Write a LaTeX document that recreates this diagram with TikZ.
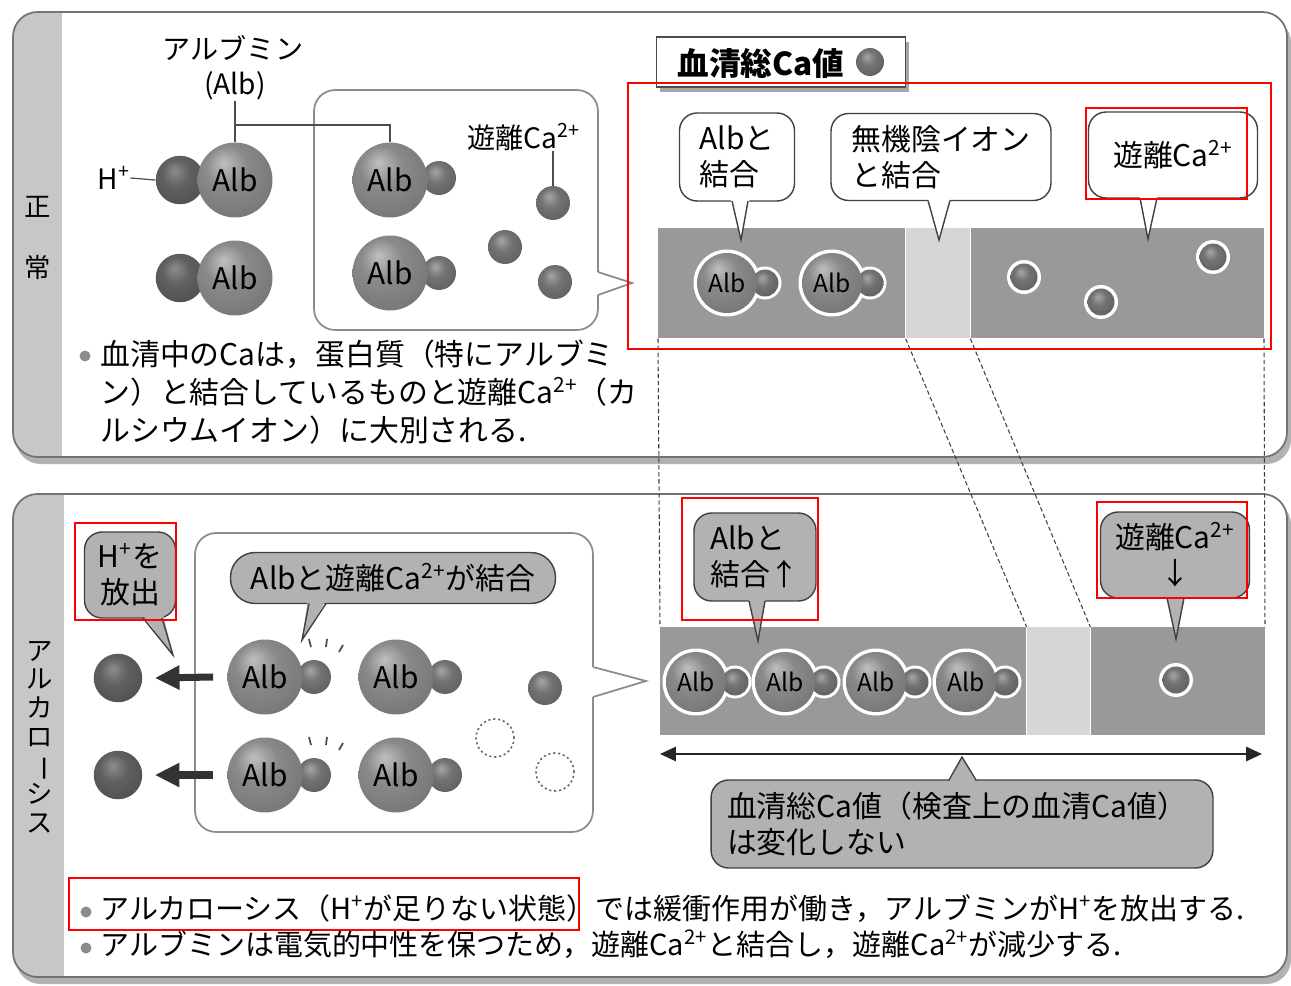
\documentclass[tikz,border=0pt]{standalone}
\usepackage{fontspec}
\setmainfont{Noto Sans CJK JP}
\usetikzlibrary{positioning,arrows.meta}

\definecolor{stripegray}{gray}{0.78}
\definecolor{bandgray}{gray}{0.6}
\definecolor{bandlight}{gray}{0.84}
\definecolor{bubblegray}{gray}{0.7}
\definecolor{framegray}{gray}{0.45}

% shaded spheres for albumin, H+ and Ca2+
\pgfdeclareradialshading{albshade}{\pgfpoint{-8bp}{12bp}}{color(0bp)=(black!25); color(14bp)=(black!46); color(40bp)=(black!57); color(50bp)=(black!66)}
\pgfdeclareradialshading{hshade}{\pgfpoint{-6bp}{10bp}}{color(0bp)=(black!45); color(14bp)=(black!62); color(40bp)=(black!72); color(50bp)=(black!80)}
\pgfdeclareradialshading{cashade}{\pgfpoint{-6bp}{10bp}}{color(0bp)=(black!35); color(14bp)=(black!55); color(40bp)=(black!66); color(50bp)=(black!75)}

\begin{document}
\begin{tikzpicture}[x=0.02cm,y=-0.02cm]
\tikzstyle{panel}=[draw=framegray, line width=1pt, rounded corners=14pt]
\tikzstyle{panelshadow}=[fill=black!30, rounded corners=14pt]
\tikzstyle{alb}=[circle, minimum size=1.5cm, inner sep=0pt, shade, shading=albshade, font=\fontsize{17}{17}\selectfont]
\tikzstyle{hion}=[circle, minimum size=0.97cm, inner sep=0pt, shade, shading=hshade]
\tikzstyle{ca}=[circle, minimum size=0.68cm, inner sep=0pt, shade, shading=cashade]
\tikzstyle{balb}=[alb, minimum size=1.2cm, font=\fontsize{14}{14}\selectfont]
\tikzstyle{bca}=[ca, minimum size=0.54cm]
\tikzstyle{halo}=[circle, fill=white, inner sep=0pt]
\tikzstyle{gap}=[circle, minimum size=0.76cm, draw=black!60, line width=0.9pt, dash pattern=on 1.2pt off 1.6pt]
\tikzstyle{callout}=[draw=black!75, line width=0.8pt, fill=white, rounded corners=10pt, align=left, inner sep=2pt, font=\fontsize{17}{20.5}\selectfont]
\tikzstyle{gcallout}=[callout, fill=bubblegray]
\tikzstyle{bigbubble}=[draw=black!45, line width=1pt, fill=white, rounded corners=12pt]
\tikzstyle{tailline}=[draw=black!75, line width=0.8pt]
\tikzstyle{band}=[rectangle, inner sep=0pt, fill=bandgray]
\tikzstyle{txt}=[inner sep=0pt, font=\fontsize{16}{18}\selectfont]
\tikzstyle{bullettxt}=[inner sep=0pt, align=left, font=\fontsize{17}{21.5}\selectfont]
\tikzstyle{bulletdot}=[circle, fill=black!45, inner sep=0pt, minimum size=0.22cm]
\tikzstyle{connect}=[black!70, line width=0.7pt]
\tikzstyle{guide}=[black!75, line width=0.6pt, dash pattern=on 2.5pt off 1.5pt]
\tikzstyle{hilite}=[draw=red, line width=1.2pt]

\useasboundingbox (0,0) rectangle (1291,986);
\fill[white] (0,0) rectangle (1291,986);

% ---- panels ----
\fill[panelshadow] (16,18) rectangle (1291,464);
\fill[white, rounded corners=14pt] (13,12) rectangle (1287,457);
\begin{scope}
  \clip[rounded corners=14pt] (13,12) rectangle (1287,457);
  \fill[stripegray] (13,12) rectangle (62,457);
\end{scope}
\draw[panel] (13,12) rectangle (1287,457);

\fill[panelshadow] (16,500) rectangle (1291,984);
\fill[white, rounded corners=14pt] (13,494) rectangle (1287,977);
\begin{scope}
  \clip[rounded corners=14pt] (13,494) rectangle (1287,977);
  \fill[stripegray] (13,494) rectangle (64,977);
\end{scope}
\draw[panel] (13,494) rectangle (1287,977);

\node[txt, font=\fontsize{15}{15}\selectfont] (norm1) at (38,207) {正};
\node[txt, font=\fontsize{15}{15}\selectfont] (norm2) at (38,267) {常};
\node[txt, align=center, font=\fontsize{15}{16.3}\selectfont] (alk) at (40,737)
  {ア\\ル\\カ\\ロ\\\rotatebox[origin=c]{-90}{ー}\\シ\\ス};

% ---- normal: albumin with H+ ----
\node[txt] (lblAlbumin) at (233,48) {アルブミン};
\node[txt] (lblAlb) at (235,86) {(Alb)};
\node[hion] (hA) at (180,180) {};
\node[alb] (albA) at (235,180) {Alb};
\node[hion] (hB) at (180,278) {};
\node[alb] (albB) at (235,278) {Alb};
\node[txt] (lblH) at (114,178) {H\textsuperscript{+}};
\draw[connect] (lblH.east) -- (hA.west);

% speech bubble: albumin carrying Ca2+
\node[bigbubble, minimum width=5.68cm, minimum height=4.8cm] (bubN) at (456,210) {};
\fill[white] (594,271) -- (594,296) -- (632,283) -- cycle;
\draw[black!45, line width=1pt] (598,272) -- (632,283) -- (598,295);

\node[ca] (caC) at (439,178) {};
\node[alb] (albC) at (390,180) {Alb};
\node[ca] (caD) at (439,273) {};
\node[alb] (albD) at (390,273) {Alb};
\node[ca] (caF1) at (553,203) {};
\node[ca] (caF2) at (505,247) {};
\node[ca] (caF3) at (555,282) {};
\node[txt] (lblFreeCa) at (524,137) {遊離Ca\textsuperscript{2+}};

\coordinate (brk) at (235,125);
\draw[connect] (lblAlb.south) -- (albA.north);
\draw[connect] (brk) -| (albC.north);
\draw[connect] (caF1.north |- lblFreeCa.south) -- (caF1.north);

\node[bulletdot] (dotN) at (85,356) {};
\node[bullettxt, anchor=north west] (noteN) at (100,340)
  {血清中のCaは，蛋白質（特にアルブミ\\ン）と結合しているものと遊離Ca\textsuperscript{2+}（カ\\ルシウムイオン）に大別される.};

% ---- serum total Ca key ----
\fill[black!35] (660,42) rectangle (909,92);
\node[draw=black!70, line width=1pt, fill=white, minimum width=4.98cm, minimum height=1cm, inner sep=0pt] (key) at (781,62) {};
\node[txt, font=\fontsize{18}{18}\selectfont\bfseries] (keyTxt) at (761,63) {血清総Ca値};
\node[ca, minimum size=0.56cm] (caKey) at (870,62) {};

% ---- normal band ----
\node[band, anchor=north west, minimum width=4.94cm, minimum height=2.2cm] (topAlb) at (658,228) {};
\node[band, fill=bandlight, minimum width=1.28cm, minimum height=2.2cm, right=0pt of topAlb] (topAnion) {};
\node[band, minimum width=5.86cm, minimum height=2.2cm, right=0pt of topAnion] (topFree) {};

\foreach \x in {727,832} {
  \node[halo, minimum size=1.34cm] at (\x,283) {};
  \node[halo, minimum size=0.66cm] at (\x+38,283) {};
}
\node[bca] (caJ) at (765,283) {};
\node[balb] (albJ) at (727,283) {Alb};
\node[bca] (caK) at (870,283) {};
\node[balb] (albK) at (832,283) {Alb};
\foreach \x/\y [count=\i] in {1024/277,1101/302,1213/257} {
  \node[halo, minimum size=0.68cm] at (\x,\y) {};
  \node[bca] (caFree\i) at (\x,\y) {};
}

\node[callout, minimum width=2.3cm, minimum height=1.76cm] (bAlbN) at (737,157) {Albと\\結合};
\fill[white] (730,197) -- (750,197) -- (741,240) -- cycle;
\draw[tailline] (732,201) -- (741,240) -- (748,201);
\node[callout, minimum width=4.4cm, minimum height=1.74cm] (bAnion) at (941,157) {無機陰イオン\\と結合};
\fill[white] (927,197) -- (951,197) -- (939,240) -- cycle;
\draw[tailline] (928,200.5) -- (939,240) -- (950,200.5);
\node[callout, minimum width=3.38cm, minimum height=1.72cm] (bFreeN) at (1173,155) {遊離Ca\textsuperscript{2+}};
\fill[white] (1139,194) -- (1158,194) -- (1148,239) -- cycle;
\draw[tailline] (1140,198) -- (1148,239) -- (1157,198);

% ---- alkalosis: H+ released ----
\node[gcallout, minimum width=1.82cm, minimum height=1.72cm, align=center] (bRelease) at (130,575) {H\textsuperscript{+}を\\放出};
\fill[bubblegray] (142,614) -- (163,614) -- (173,655) -- cycle;
\draw[tailline] (143,618) -- (173,655) -- (162,618);

\node[hion] (hE) at (118,678) {};
\node[hion] (hF) at (118,775) {};

\node[bigbubble, minimum width=7.96cm, minimum height=5.98cm] (bubA) at (394,682.5) {};
\fill[white] (589,666) -- (589,698) -- (646,681) -- cycle;
\draw[black!45, line width=1pt] (593,667) -- (646,681) -- (593,697);

\node[gcallout, rounded corners=14pt, minimum width=6.5cm, minimum height=1.02cm] (bBind) at (393,578) {Albと遊離Ca\textsuperscript{2+}が結合};
\fill[bubblegray] (308,599) -- (327,599) -- (302,640) -- cycle;
\draw[tailline] (309,603.5) -- (302,640) -- (326,603.5);

\foreach \y/\a/\b in {677/E/F,775/G/H} {
  \node[ca] (ca\a) at (314,\y) {};
  \node[alb] (alb\a) at (265,\y) {Alb};
  \node[ca] (ca\b) at (445,\y) {};
  \node[alb] (alb\b) at (396,\y) {Alb};
  \draw[connect, line width=1pt] (309,\y-38) -- (311,\y-30);
  \draw[connect, line width=1pt] (327,\y-38) -- (326,\y-30);
  \draw[connect, line width=1pt] (343,\y-32) -- (339,\y-25);
}
\draw[-{Triangle[length=14pt,width=13pt]}, line width=4pt, black!80] ([xshift=-8pt]albE.west) -- ([xshift=7pt]hE.east);
\draw[-{Triangle[length=14pt,width=13pt]}, line width=4pt, black!80] ([xshift=-8pt]albG.west) -- ([xshift=7pt]hF.east);

\node[ca] (caI) at (545,688) {};
\node[gap] (gapA) at (495,738) {};
\node[gap] (gapB) at (555,772) {};

% ---- alkalosis band ----
\node[band, anchor=north west, minimum width=7.32cm, minimum height=2.16cm] (botAlb) at (660,627) {};
\node[band, fill=bandlight, minimum width=1.26cm, minimum height=2.16cm, right=0pt of botAlb] (botAnion) {};
\node[band, minimum width=3.48cm, minimum height=2.16cm, right=0pt of botAnion] (botFree) {};

\draw[guide] (topAlb.south west) -- (botAlb.north west);
\draw[guide] (topAlb.south east) -- (botAlb.north east);
\draw[guide] (topAnion.south east) -- (botAnion.north east);
\draw[guide] (topFree.south east) -- (botFree.north east);

\foreach \x [count=\i] in {696,785,876,966} {
  \node[halo, minimum size=1.34cm] at (\x,682) {};
  \node[halo, minimum size=0.66cm] at (\x+39,682) {};
}
\foreach \x [count=\i] in {696,785,876,966} {
  \node[bca] (caB\i) at (\x+39,682) {};
  \node[balb] (albB\i) at (\x,682) {Alb};
}
\node[halo, minimum size=0.68cm] at (1176,680) {};
\node[bca] (caLow) at (1176,680) {};

\node[gcallout, minimum width=2.44cm, minimum height=1.76cm] (bAlbA) at (755,557) {Albと\\結合↑};
\fill[bubblegray] (748,597) -- (766,597) -- (758,641) -- cycle;
\draw[tailline] (749,601) -- (758,641) -- (765,601);
\node[gcallout, align=center, minimum width=2.98cm, minimum height=1.72cm] (bFreeA) at (1175,555) {遊離Ca\textsuperscript{2+}\\↓};
\fill[bubblegray] (1166,594) -- (1185,594) -- (1176,639) -- cycle;
\draw[tailline] (1167,598) -- (1176,639) -- (1184,598);

\coordinate (spanL) at (660,754);
\coordinate (spanR) at (1262,754);
\draw[{Triangle[length=9pt,width=8pt]}-{Triangle[length=9pt,width=8pt]}, line width=1.3pt, black!85] (spanL) -- (spanR);

\node[gcallout, minimum width=10.04cm, minimum height=1.76cm, text width=9.4cm] (bTotal) at (962,824) {血清総Ca値（検査上の血清Ca値）\\は変化しない};
\fill[bubblegray] (948,784) -- (977,784) -- (962,757) -- cycle;
\draw[tailline] (949,780) -- (962,757) -- (976,780);

\node[bulletdot] (dotA1) at (86,912) {};
\node[bulletdot] (dotA2) at (86,948) {};
\node[bullettxt, anchor=north west, font=\fontsize{16.5}{20.5}\selectfont] (noteA) at (100,894)
  {アルカローシス（H\textsuperscript{+}が足りない状態）では緩衝作用が働き，アルブミンがH\textsuperscript{+}を放出する.\\アルブミンは電気的中性を保つため，遊離Ca\textsuperscript{2+}と結合し，遊離Ca\textsuperscript{2+}が減少する.};

% ---- red highlights ----
\draw[hilite] (628,83) rectangle (1271,349);
\draw[hilite] (1086,108) rectangle (1247,199);
\draw[hilite] (682,498) rectangle (818,620);
\draw[hilite] (1097,502) rectangle (1247,598);
\draw[hilite] (75,523) rectangle (176,620);
\draw[hilite] (69,878) rectangle (579,930);
\end{tikzpicture}
\end{document}
